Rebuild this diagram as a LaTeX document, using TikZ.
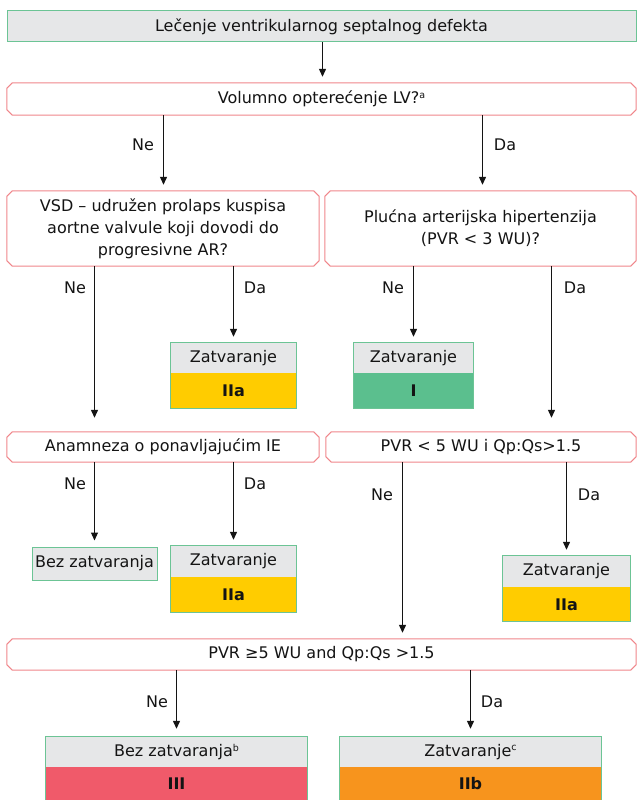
\documentclass[tikz,border=0pt]{standalone}
\usepackage{fontspec}
\setmainfont{DejaVu Sans}
\usetikzlibrary{arrows.meta,calc}
\definecolor{boxgray}{HTML}{E6E7E8}
\definecolor{boxgreen}{HTML}{6CC495}
\definecolor{decpink}{HTML}{F0868B}
\definecolor{clsI}{HTML}{5BBF8E}
\definecolor{clsIIa}{HTML}{FFCC00}
\definecolor{clsIIb}{HTML}{F7941D}
\definecolor{clsIII}{HTML}{F05A6A}
\definecolor{txt}{HTML}{141414}
\newcommand{\decoutline}[1]{%
  \draw[decedge] ([xshift=5.5pt]#1.north west) -- ([xshift=-5.5pt]#1.north east)
    -- ([yshift=-5.5pt]#1.north east) -- ([yshift=5.5pt]#1.south east)
    -- ([xshift=-5.5pt]#1.south east) -- ([xshift=5.5pt]#1.south west)
    -- ([yshift=5.5pt]#1.south west) -- ([yshift=-5.5pt]#1.north west) -- cycle;}
\newcommand{\supmark}[1]{\raisebox{5.5pt}{\fontsize{9.5}{10}\selectfont #1}}
\begin{document}
\begin{tikzpicture}[x=1pt,y=-1pt,
  font=\fontsize{16}{22}\selectfont, text=txt,
  decnode/.style={inner sep=0pt, align=center},
  decedge/.style={draw=decpink, line width=1pt, fill=white},
  graycell/.style={fill=boxgray, inner sep=0pt, align=center},
  colcell/.style={inner sep=0pt, align=center, font=\fontsize{16}{22}\selectfont\bfseries},
  greenedge/.style={draw=boxgreen, line width=1pt},
  arr/.style={draw=txt, line width=1.2pt, -{Triangle[length=8pt,width=7pt]}, shorten >=6pt},
  arrlong/.style={arr, shorten >=14pt},
  lbl/.style={inner sep=0pt}
]
\useasboundingbox (0,0) rectangle (638,800);
\fill[white] (0,0) rectangle (638,800);

% title
\node[graycell, draw=boxgreen, line width=1pt, minimum width=629, minimum height=31] (title) at (321.5,26.5) {Lečenje ventrikularnog septalnog defekta};

% decision 1
\node[decnode, minimum width=629, minimum height=32] (d1) at (321.5,99) {};
\decoutline{d1}
\node[lbl] (d1t) at (d1.center) {Volumno opterećenje LV?\supmark{a}};

% decision 2
\node[decnode, minimum width=312, minimum height=75] (d2l) at (163,228.5) {};
\decoutline{d2l}
\node[lbl, align=center] (d2lt) at (d2l.center) {VSD – udružen prolaps kuspisa\\aortne valvule koji dovodi do\\progresivne AR?};
\node[decnode, minimum width=311, minimum height=75] (d2r) at (480.5,228.5) {};
\decoutline{d2r}
\node[lbl, align=center] (d2rt) at (d2r.center) {Plućna arterijska hipertenzija\\(PVR < 3 WU)?};

% result boxes row 1
\node[graycell, minimum width=126, minimum height=30] (z1t) at (233.5,358) {Zatvaranje};
\node[colcell, fill=clsIIa, minimum width=126, minimum height=35, anchor=north] (z1b) at (z1t.south) {IIa};
\draw[greenedge] (z1t.north west) rectangle (z1b.south east);

\node[graycell, minimum width=120, minimum height=30] (zIt) at (413.5,358) {Zatvaranje};
\node[colcell, fill=clsI, minimum width=120, minimum height=35, anchor=north] (zIb) at (zIt.south) {I};
\draw[greenedge] (zIt.north west) rectangle (zIb.south east);

% decision 3
\node[decnode, minimum width=312, minimum height=30] (d3l) at (163,447) {};
\decoutline{d3l}
\node[lbl] (d3lt) at (d3l.center) {Anamneza o ponavljajućim IE};
\node[decnode, minimum width=310, minimum height=30] (d3r) at (481,447) {};
\decoutline{d3r}
\node[lbl] (d3rt) at (d3r.center) {PVR < 5 WU i Qp:Qs>1.5};

% result boxes row 2
\node[graycell, draw=boxgreen, line width=1pt, minimum width=125, minimum height=33] (bez1) at (94.5,563.5) {Bez zatvaranja};

\node[graycell, minimum width=126, minimum height=31] (z2t) at (233.5,561.5) {Zatvaranje};
\node[colcell, fill=clsIIa, minimum width=126, minimum height=35, anchor=north] (z2b) at (z2t.south) {IIa};
\draw[greenedge] (z2t.north west) rectangle (z2b.south east);

\node[graycell, minimum width=127, minimum height=31] (z3t) at (566.5,571.5) {Zatvaranje};
\node[colcell, fill=clsIIa, minimum width=127, minimum height=34, anchor=north] (z3b) at (z3t.south) {IIa};
\draw[greenedge] (z3t.north west) rectangle (z3b.south east);

% decision 4
\node[decnode, minimum width=629, minimum height=31] (d4) at (321.5,654.5) {};
\decoutline{d4}
\node[lbl] (d4t) at (d4.center) {PVR ≥5 WU and Qp:Qs >1.5};

% bottom results
\node[graycell, minimum width=262, minimum height=30] (b1t) at (176.5,752) {Bez zatvaranja\supmark{b}};
\node[colcell, fill=clsIII, minimum width=262, minimum height=43, anchor=north] (b1b) at (b1t.south) {};
\draw[greenedge] (b1t.north west) rectangle (b1b.south east);

\node[graycell, minimum width=261, minimum height=30] (b2t) at (470.5,752) {Zatvaranje\supmark{c}};
\node[colcell, fill=clsIIb, minimum width=261, minimum height=43, anchor=north] (b2b) at (b2t.south) {};
\draw[greenedge] (b2t.north west) rectangle (b2b.south east);
\node[lbl, font=\fontsize{16}{22}\selectfont\bfseries] (b1l) at (176.5,784) {III};
\node[lbl, font=\fontsize{16}{22}\selectfont\bfseries] (b2l) at (470.5,784) {IIb};

% helper coordinates
\coordinate (xa) at (551.5,0);
\coordinate (xb) at (402.5,0);
\coordinate (xt) at (322.5,0);
\coordinate (xl) at (163.5,0);
\coordinate (xr) at (482.5,0);

% arrows
\draw[arr] (title.south -| xt) -- (d1.north -| xt);
\draw[arr] (d1.south -| xl) -- (d2l.north -| xl);
\draw[arr] (d1.south -| xr) -- (d2r.north -| xr);
\draw[arrlong] (d2l.south -| bez1.north) -- (d3l.north -| bez1.north);
\draw[arr] (d2l.south -| z1t.north) -- (z1t.north);
\draw[arr] (d2r.south -| zIt.north) -- (zIt.north);
\draw[arrlong] (d2r.south -| xa) -- (d3r.north -| xa);
\draw[arr] (d3l.south -| bez1.north) -- (bez1.north);
\draw[arr] (d3l.south -| z2t.north) -- (z2t.north);
\draw[arr] (d3r.south -| xb) -- (d4.north -| xb);
\draw[arr] (d3r.south -| z3t.north) -- (z3t.north);
\draw[arr, shorten >=8pt] (d4.south -| b1t.north) -- (b1t.north);
\draw[arr, shorten >=8pt] (d4.south -| b2t.north) -- (b2t.north);

% labels
\node[lbl] (n1) at (143,145) {Ne};
\node[lbl] (y1) at (505,145) {Da};
\node[lbl] (n2) at (75,288) {Ne};
\node[lbl] (y2) at (255,288) {Da};
\node[lbl] (n3) at (393,288) {Ne};
\node[lbl] (y3) at (575,288) {Da};
\node[lbl] (n4) at (75,484) {Ne};
\node[lbl] (y4) at (255,484) {Da};
\node[lbl] (n5) at (382,495) {Ne};
\node[lbl] (y5) at (589,495) {Da};
\node[lbl] (n6) at (157,702) {Ne};
\node[lbl] (y6) at (492,702) {Da};
\end{tikzpicture}
\end{document}
